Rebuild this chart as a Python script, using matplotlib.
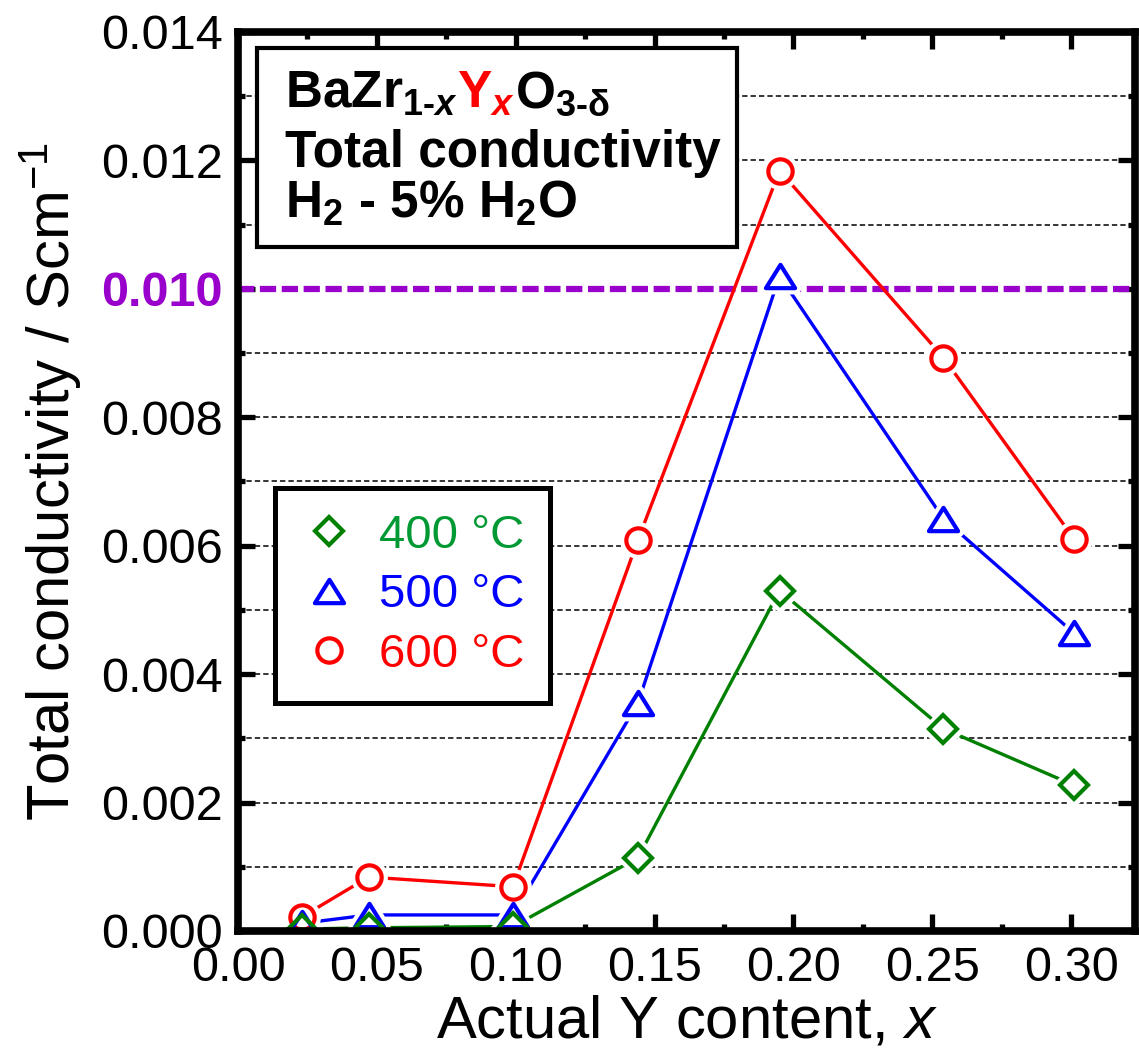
import numpy as np
import matplotlib
matplotlib.use('Agg')
import matplotlib.pyplot as plt
from matplotlib.lines import Line2D
from matplotlib.patches import Rectangle
from matplotlib.path import Path
from matplotlib.ticker import MultipleLocator

plt.rcParams['font.family'] = ['Liberation Sans', 'DejaVu Sans']
plt.rcParams['mathtext.fontset'] = 'custom'
plt.rcParams['mathtext.rm'] = 'Liberation Sans'
plt.rcParams['mathtext.it'] = 'Liberation Sans:italic'
plt.rcParams['mathtext.bf'] = 'Liberation Sans:bold'
plt.rcParams['mathtext.bfit'] = 'Liberation Sans:bold:italic'

# data
y_content = [0.023, 0.047, 0.099, 0.144, 0.195, 0.254, 0.301]
sigma_400 = [0.00003, 0.00005, 0.00007, 0.00114, 0.00530, 0.00315, 0.00227]
sigma_500 = [0.00012, 0.00025, 0.00025, 0.00355, 0.01020, 0.00642, 0.00464]
sigma_600 = [0.00022, 0.00084, 0.00069, 0.00609, 0.01184, 0.00893, 0.00611]
labels = ['400 °C', '500 °C', '600 °C']
target = 0.010
xticks = [0.00, 0.05, 0.10, 0.15, 0.20, 0.25, 0.30]
yticks = [0.000, 0.002, 0.004, 0.006, 0.008, 0.010, 0.012, 0.014]

tri = Path([(0, 0.8), (-1, -0.8), (1, -0.8), (0, 0.8)], closed=True)
green = '#008000'
purple = '#9900CC'

# (values, label, line colour, text colour, marker, size) -- red drawn first
series = [
    (sigma_600, labels[2], 'red', 'red', 'o', 17.5),
    (sigma_500, labels[1], 'blue', 'blue', tri, 21),
    (sigma_400, labels[0], green, '#009933', 'D', 14.5),
]

fig = plt.figure(figsize=(11.39, 10.64), dpi=100)
ax = fig.add_axes([0.209, 0.125, 0.7875, 0.845])

ax.set_xlim(0, 0.323)
ax.set_ylim(0, 0.014)

# dashed grid every 0.001 (the 0.010 level gets the purple line instead)
for lev in np.arange(1, 14) * 0.001:
    if abs(lev - target) < 1e-9:
        continue
    ax.axhline(lev, color='black', lw=1.1, ls=(0, (3.5, 2)), zorder=1)

ax.axhline(target, color=purple, lw=4.5, ls=(0, (2.6, 0.9)), zorder=2)

for vals, lab, c, tc, m, ms in series:
    ax.plot(y_content, vals, color=c, lw=2.4, zorder=3)
for vals, lab, c, tc, m, ms in series:
    ax.plot(y_content, vals, ls='none', marker=m, ms=ms, mfc='white',
            mec='white', mew=9, zorder=4)
for vals, lab, c, tc, m, ms in series:
    ax.plot(y_content, vals, ls='none', marker=m, ms=ms, mfc='none',
            mec=c, mew=3, zorder=5)

# axes cosmetics
for sp in ax.spines.values():
    sp.set_linewidth(5.5)
    sp.set_zorder(6)
ax.set_xticks(xticks, labels=['%.2f' % v for v in xticks])
ax.set_yticks(yticks, labels=['%.3f' % v for v in yticks])
ax.xaxis.set_minor_locator(MultipleLocator(0.025))
ax.yaxis.set_minor_locator(MultipleLocator(0.001))
ax.tick_params(which='both', direction='in', top=True, right=True, width=3.8)
ax.tick_params(which='major', length=12, labelsize=35)
ax.tick_params(which='minor', length=5)
ax.tick_params(axis='x', pad=11)
ax.tick_params(axis='y', pad=11)
for t in ax.get_yticklabels():
    if t.get_text() == '%.3f' % target:
        t.set_color(purple)
        t.set_fontweight('bold')

ax.set_xlabel('Actual Y content, $\\mathit{x}$', fontsize=43, labelpad=2)
ax.set_ylabel('Total conductivity / Scm$^{\\mathrm{-1}}$', fontsize=43, labelpad=12)

# composition / condition box
ax.add_patch(Rectangle((0.0212, 0.761), 0.535, 0.221, transform=ax.transAxes,
                       facecolor='white', edgecolor='black', lw=3, zorder=7))
kw = dict(transform=ax.transAxes, fontsize=37, fontweight='bold', zorder=8,
          va='baseline')
t1 = ax.text(0.052, 0.9155, 'BaZr$_{\\mathbf{1‐}\\mathbfit{x}}$', **kw)
t2 = ax.annotate('Y$_{\\mathbfit{x}}$', xy=(1, 0), xycoords=t1, va='bottom',
                 fontsize=37, fontweight='bold', color='red', zorder=8)
t3 = ax.annotate('O$_{\\mathbf{3‐δ}}$', xy=(1, 0), xycoords=t2, va='bottom',
                 fontsize=37, fontweight='bold', zorder=8)
ax.text(0.052, 0.850, 'Total conductivity', **kw)
ax.text(0.052, 0.794, 'H$_{\\mathbf{2}}$ - 5% H$_{\\mathbf{2}}$O', **kw)

# legend
handles = [Line2D([], [], ls='none', marker=m, ms=ms, mfc='none', mec=c, mew=3)
           for vals, lab, c, tc, m, ms in series[::-1]]
leg = ax.legend(handles, [s[1] for s in series[::-1]], loc='upper left',
                bbox_to_anchor=(0.041, 0.493), borderaxespad=0, fontsize=34,
                frameon=True, fancybox=False, framealpha=1, edgecolor='black',
                handlelength=1.2, handletextpad=0.45, labelspacing=0.33,
                borderpad=0.55)
leg.get_frame().set_linewidth(3.6)
leg.set_zorder(7)
for txt, s in zip(leg.get_texts(), series[::-1]):
    txt.set_color(s[3])

fig.savefig('out.png', dpi=100)
